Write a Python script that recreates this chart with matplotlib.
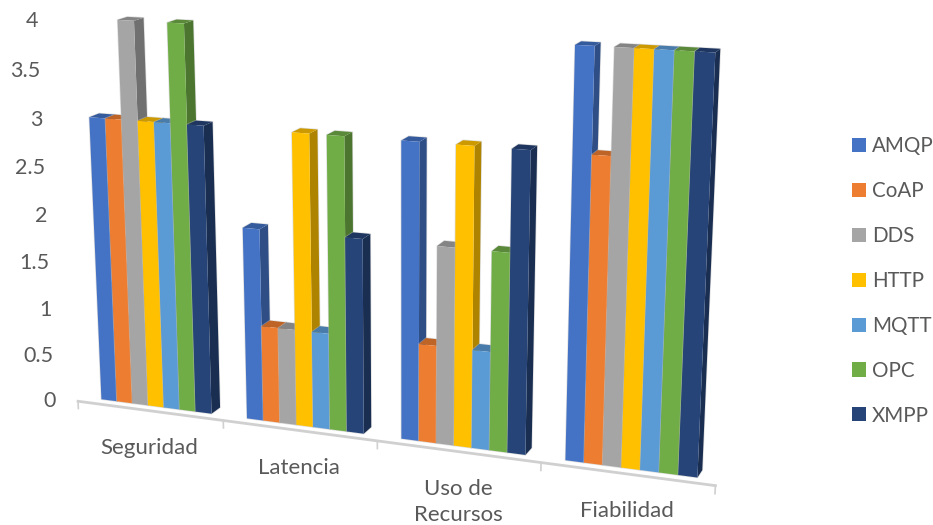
import numpy as np
import matplotlib
matplotlib.use('Agg')
import matplotlib.pyplot as plt
from matplotlib.patches import Polygon, Patch
from matplotlib.colors import to_rgb

categories = ['Seguridad', 'Latencia', 'Uso de\nRecursos', 'Fiabilidad']
series_names = ['AMQP', 'CoAP', 'DDS', 'HTTP', 'MQTT', 'OPC', 'XMPP']
series_colors = ['#4472C4', '#ED7D31', '#A5A5A5', '#FFC000', '#5B9BD5', '#70AD47', '#264478']

amqp = [3, 2, 3, 4]
coap = [3, 1, 1, 3]
dds = [4, 1, 2, 4]
http = [3, 3, 3, 4]
mqtt = [3, 1, 1, 4]
opc = [4, 3, 2, 4]
xmpp = [3, 2, 3, 4]
series_values = [amqp, coap, dds, http, mqtt, opc, xmpp]

value_ticks = [0, 0.5, 1, 1.5, 2, 2.5, 3, 3.5, 4]
value_labels = ['0', '0.5', '1', '1.5', '2', '2.5', '3', '3.5', '4']

text_color = '#595959'
plt.rcParams['font.family'] = 'Lato'

gap = 2.19
bar_w = 1 / (len(series_names) + gap)
axis_depth = -0.8
bar_depth = 1.15

# camera: (category, value, depth) -> pixel, fitted on points
camera_refs = [
    (0.119, 0, 0, 101, 399.3), (0.881, 0, 0, 211.7, 413.3),
    (1.119, 0, 0, 246, 418.3), (1.881, 0, 0, 363.3, 433.3),
    (2.119, 0, 0, 401, 438.3), (2.881, 0, 0, 525, 454),
    (3.119, 0, 0, 565.7, 460), (3.881, 0, 0, 697.3, 476.7),
    (0.119, 3, 0, 89.3, 117.3), (0.3366, 4, 0, 117.3, 20),
    (0.881, 3, 0, 204, 124), (3.119, 4, 0, 575.3, 44),
    (3.881, 4, 0, 715.3, 52.7), (1.119, 2, 0, 242.7, 228.3),
    (2.119, 3, 0, 401.3, 141), (2.881, 3, 0, 531, 150),
    (1.4454, 3, 0, 291.7, 132.7),
    (0.881, 3, 1, 211.3, 122.7), (0.881, 0, 1, 219.3, 408.3),
    (3.881, 4, 1, 719.3, 49.3), (3.881, 0, 1, 702.7, 471.7),
    (2.881, 3, 1, 536, 146.7), (1.4454 + bar_w, 3, 1, 316.7, 130.3),
    (0, 0, axis_depth, 78.3, 400.7), (1, 0, axis_depth, 224, 421.7),
    (2, 0, axis_depth, 377.7, 441.7), (3, 0, axis_depth, 541, 463.3),
    (4, 0, axis_depth, 715, 485.7),
]
rows, rhs = [], []
for u, v, d, px, py in camera_refs:
    rows.append([u, v, d, 1, 0, 0, 0, 0, -px * u, -px * v, -px * d])
    rhs.append(px)
    rows.append([0, 0, 0, 0, u, v, d, 1, -py * u, -py * v, -py * d])
    rhs.append(py)
cam = np.linalg.lstsq(np.array(rows), np.array(rhs), rcond=None)[0]
cam = np.append(cam, 1).reshape(3, 4)


def project(u, v, d=0):
    p = cam @ np.array([u, v, d, 1.0])
    return p[0] / p[2], p[1] / p[2]


def shade(color, k):
    return tuple(c * k for c in to_rgb(color))


fig = plt.figure(figsize=(9.33, 5.25), dpi=100)
ax = fig.add_axes([0, 0, 1, 1])
ax.set_xlim(0, 933)
ax.set_ylim(525, 0)
ax.axis('off')

# category axis with tick marks
ax.plot(*zip(project(0, 0, axis_depth), project(4, 0, axis_depth)), color='#D0D0D0', lw=2, zorder=1)
for i in range(len(categories) + 1):
    ax.plot(*zip(project(i, 0, axis_depth), project(i, -0.08, axis_depth)), color='#D0D0D0', lw=1.2, zorder=1)

# bars, left to right so that the next bar covers the side of the previous one
z = 2
for i in range(len(categories)):
    for j, values in enumerate(series_values):
        u0 = i + (gap / 2 + j) * bar_w
        u1 = u0 + bar_w
        h = values[i]
        color = series_colors[j]
        side = [project(u1, 0, 0), project(u1, 0, bar_depth), project(u1, h, bar_depth), project(u1, h, 0)]
        top = [project(u0, h, 0), project(u1, h, 0), project(u1, h, bar_depth), project(u0, h, bar_depth)]
        front = [project(u0, 0, 0), project(u1, 0, 0), project(u1, h, 0), project(u0, h, 0)]
        outline = [project(u0, 0, 0), project(u1, 0, 0), project(u1, 0, bar_depth), project(u1, h, bar_depth),
                   project(u0, h, bar_depth), project(u0, h, 0)]
        ax.add_patch(Polygon(outline, closed=True, fc='none', ec='#BFBFBF', lw=1.0, alpha=0.5, zorder=z))
        ax.add_patch(Polygon(side, closed=True, fc=shade(color, 0.68), ec='none', zorder=z))
        ax.add_patch(Polygon(top, closed=True, fc=shade(color, 0.8), ec='none', zorder=z))
        ax.add_patch(Polygon(front, closed=True, fc=color, ec='none', zorder=z))
        z += 1

# value labels follow the leaning wall
for v, lab in zip(value_ticks, value_labels):
    x, y = project(0, v, 0)
    ax.text(x - 29, y + 4, lab, ha='right', va='center', fontsize=15.5, color=text_color)

# category labels
for i, lab in enumerate(categories):
    x, y = project(i + 0.5, 0, axis_depth)
    ax.text(x, y + 27, lab, ha='center', va='top', fontsize=16, color=text_color, linespacing=1.4)

handles = [Patch(fc=c, ec='none', label=n) for c, n in zip(series_colors, series_names)]
ax.legend(handles=handles, loc='center left', bbox_to_anchor=(852 / 933, 1 - 281 / 525),
          frameon=False, fontsize=14.8, labelcolor=text_color, handlelength=0.68, handleheight=0.68,
          handletextpad=0.28, labelspacing=1.21, borderpad=0, borderaxespad=0)

fig.savefig('out.png', dpi=100)
